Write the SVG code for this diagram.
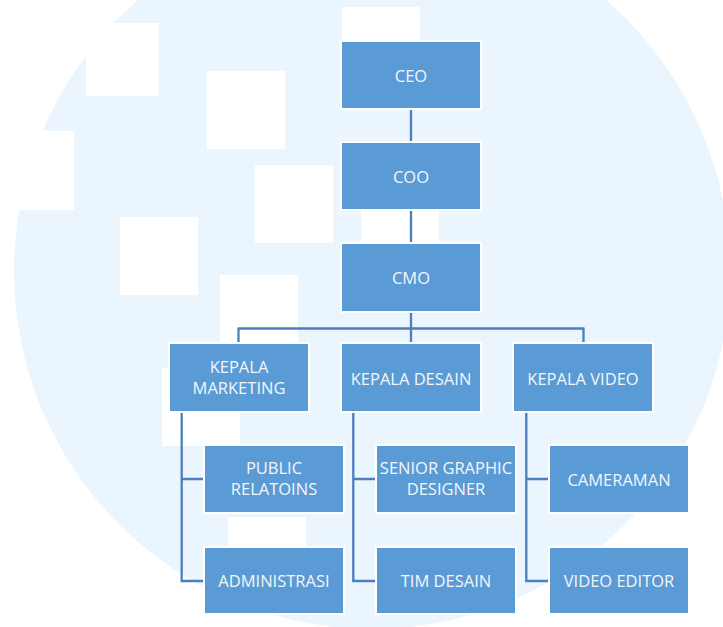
<svg xmlns="http://www.w3.org/2000/svg" width="723" height="627" viewBox="0 0 723 627">
<style>
.box{fill:#5B9BD5;stroke:#ffffff;stroke-width:2}
.t{font-family:"Open Sans","Liberation Sans",sans-serif;font-size:16.5px;fill:#F2F6FB;text-anchor:middle}
.sq{fill:#ffffff}
.c{fill:none;stroke:#4C7FBB;stroke-width:2.3}
</style>
<rect x="0" y="0" width="723" height="627" fill="#ffffff"/>
<g id="background">
<circle cx="372" cy="271" r="358" fill="#EBF5FE"/>
<rect class="sq" x="86" y="23" width="73" height="73"/>
<rect class="sq" x="207" y="71" width="78" height="78"/>
<rect class="sq" x="-4" y="131" width="78" height="79"/>
<rect class="sq" x="255" y="165" width="78" height="78"/>
<rect class="sq" x="120" y="217" width="78" height="78"/>
<rect class="sq" x="220" y="275" width="78" height="78"/>
<rect class="sq" x="342" y="7" width="78" height="78"/>
<rect class="sq" x="361" y="165" width="78" height="78"/>
<rect class="sq" x="162" y="368" width="78" height="78"/>
<rect class="sq" x="228" y="517" width="78" height="78"/>
</g>
<g id="connectors">
<path class="c" d="M411 109V142M411 210V243M411 312V328.5M238.5 328.5H583.5M238.5 327.5V343M583.5 327.5V343M411 328.5V343"/>
<path class="c" d="M181.7 412V581H204M181.7 479H204"/>
<path class="c" d="M353.3 412V581H376M353.3 479H376"/>
<path class="c" d="M526.3 412V581H549M526.3 479H549"/>
</g>
<g id="ceo"><rect class="box" x="341" y="41" width="140" height="68"/><text class="t" x="411" y="81.5">CEO</text></g>
<g id="coo"><rect class="box" x="341" y="142" width="140" height="68"/><text class="t" x="411" y="182.5">COO</text></g>
<g id="cmo"><rect class="box" x="341" y="243" width="140" height="69"/><text class="t" x="411" y="284">CMO</text></g>
<g id="kepala-marketing"><rect class="box" x="169" y="343" width="140" height="69"/><text class="t" x="239" y="372.8">KEPALA</text><text class="t" x="239" y="393.8">MARKETING</text></g>
<g id="kepala-desain"><rect class="box" x="341" y="343" width="140" height="69"/><text class="t" x="411" y="385">KEPALA DESAIN</text></g>
<g id="kepala-video"><rect class="box" x="513" y="343" width="140" height="69"/><text class="t" x="583" y="385">KEPALA VIDEO</text></g>
<g id="public-relatoins"><rect class="box" x="204" y="445" width="140" height="68"/><text class="t" x="274" y="474.3">PUBLIC</text><text class="t" x="274" y="495.3">RELATOINS</text></g>
<g id="administrasi"><rect class="box" x="204" y="547" width="140" height="67"/><text class="t" x="274" y="587">ADMINISTRASI</text></g>
<g id="senior-graphic-designer"><rect class="box" x="376" y="445" width="140" height="68"/><text class="t" x="446" y="474.3">SENIOR GRAPHIC</text><text class="t" x="446" y="495.3">DESIGNER</text></g>
<g id="tim-desain"><rect class="box" x="376" y="547" width="140" height="67"/><text class="t" x="446" y="587">TIM DESAIN</text></g>
<g id="cameraman"><rect class="box" x="549" y="445" width="140" height="68"/><text class="t" x="619" y="485.5">CAMERAMAN</text></g>
<g id="video-editor"><rect class="box" x="549" y="547" width="140" height="67"/><text class="t" x="619" y="587">VIDEO EDITOR</text></g>
</svg>
